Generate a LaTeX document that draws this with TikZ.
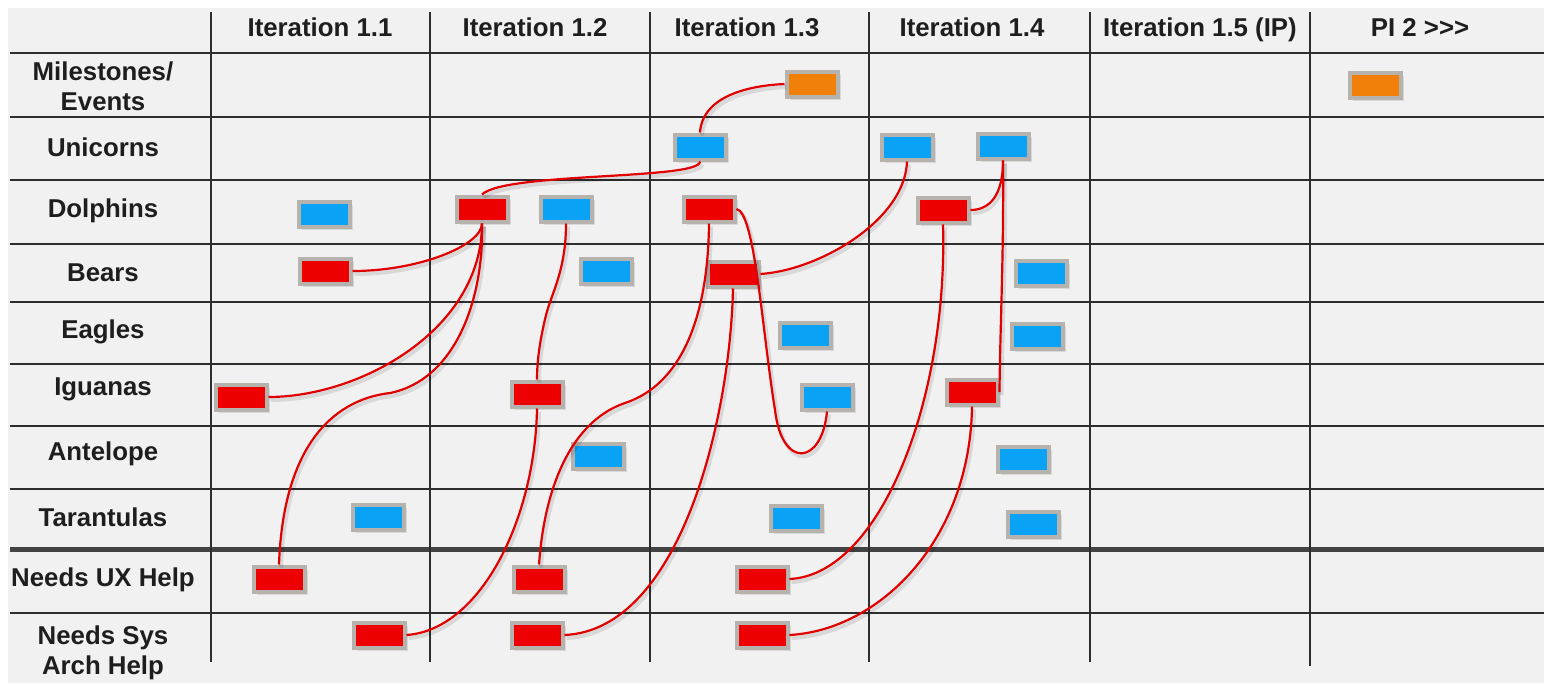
\documentclass[tikz,border=0pt]{standalone}
\usepackage{fontspec}
\setmainfont{Liberation Sans}
\usetikzlibrary{shadows}
\definecolor{bgc}{HTML}{F2F1F1}
\definecolor{gridc}{HTML}{2E2E2E}
\definecolor{cred}{HTML}{EE0000}
\definecolor{cblue}{HTML}{0AA2F5}
\definecolor{corange}{HTML}{F08008}
\definecolor{boxrim}{HTML}{B6B2AE}
\definecolor{linkc}{HTML}{E00000}
\definecolor{txt}{HTML}{1E1E1E}
\begin{document}
\begin{tikzpicture}[x=1pt,y=-1pt,
  card/.style={draw=boxrim, line width=4pt, minimum width=51pt, minimum height=25pt, inner sep=0pt,
    drop shadow={shadow xshift=3pt, shadow yshift=-3pt, opacity=0.22}},
  redcard/.style={card, fill=cred},
  bluecard/.style={card, fill=cblue},
  orangecard/.style={card, fill=corange},
  linkline/.style={draw=linkc, line width=2.2pt,
    preaction={draw=black, opacity=0.10, line width=4pt, transform canvas={xshift=2pt, yshift=-3pt}}},
  lab/.style={font=\fontsize{25.8}{30}\selectfont\bfseries, text=txt, align=center, inner sep=0pt},
  hdr/.style={lab, anchor=base},
  gridline/.style={draw=gridc, line width=2pt},
]
\useasboundingbox (0,0) rectangle (1544,683);
\fill[white] (0,0) rectangle (1544,683);
\fill[bgc] (8,8) rectangle (1544,683);

% grid
\foreach \y in {53,117,180,244,302,364,426,489,613}
  \draw[gridline] (10,\y) -- (1544,\y);
\draw[draw=gridc!90, line width=5pt] (10,549) -- (1544,549);
\foreach \x in {211,430,650,869,1090}
  \draw[gridline] (\x,12) -- (\x,662);
\draw[gridline] (1310,12) -- (1310,666);

% headers
\node[hdr] (h11) at (320,36) {Iteration 1.1};
\node[hdr] (h12) at (535,36) {Iteration 1.2};
\node[hdr] (h13) at (747,36) {Iteration 1.3};
\node[hdr] (h14) at (972,36) {Iteration 1.4};
\node[hdr] (h15) at (1200,36) {Iteration 1.5 (IP)};
\node[hdr] (hpi) at (1420,36) {PI 2 {>}{>}{>}};

% row labels
\node[lab] (rm) at (103,86) {Milestones/\\Events};
\node[lab] (ru) at (103,147) {Unicorns};
\node[lab] (rd) at (103,211) {Dolphins};
\node[lab] (rb) at (103,273) {Bears};
\node[lab] (re) at (103,332) {Eagles};
\node[lab] (ri) at (103,389) {Iguanas};
\node[lab] (ra) at (103,454) {Antelope};
\node[lab] (rt) at (103,517) {Tarantulas};
\node[lab] (rx) at (103,580) {Needs UX Help};
\node[lab] (rs) at (103,653) {Needs Sys\\Arch Help};

% cards
\node[orangecard] (m13) at (812,84) {};
\node[orangecard] (m2) at (1375,85) {};
\node[bluecard] (u13) at (700,147) {};
\node[bluecard] (u14a) at (907,147) {};
\node[bluecard] (u14b) at (1003,146) {};
\node[bluecard] (d11) at (324,214) {};
\node[redcard] (d12r) at (482,209) {};
\node[bluecard] (d12b) at (566,209) {};
\node[redcard] (d13) at (709,209) {};
\node[redcard] (d14) at (943,210) {};
\node[redcard] (b11) at (325,271) {};
\node[bluecard] (b12) at (606,271) {};
\node[redcard] (b13) at (733,274) {};
\node[bluecard] (b14) at (1041,273) {};
\node[bluecard] (e13) at (805,335) {};
\node[bluecard] (e14) at (1037,336) {};
\node[redcard] (i11) at (241,397) {};
\node[redcard] (i12) at (537,394) {};
\node[bluecard] (i13) at (827,397) {};
\node[redcard] (i14) at (972,392) {};
\node[bluecard] (a12) at (598,456) {};
\node[bluecard] (a14) at (1023,459) {};
\node[bluecard] (t11) at (378,517) {};
\node[bluecard] (t13) at (796,518) {};
\node[bluecard] (t14) at (1033,524) {};
\node[redcard] (x11) at (279,579) {};
\node[redcard] (x12) at (539,579) {};
\node[redcard] (x13) at (762,579) {};
\node[redcard] (s11) at (379,635) {};
\node[redcard] (s12) at (537,635) {};
\node[redcard] (s13) at (762,635) {};

% connectors
\draw[linkline] (m13.west) .. controls (740,86) and (702,100) .. (u13.north);
\draw[linkline] (u13.south) .. controls (700,180) and (505,172) .. (d12r.north);
\draw[linkline] (d12r.south) .. controls (482,245) and (420,271) .. (b11.east);
\draw[linkline] (d12r.south) .. controls (482,330) and (360,397) .. (i11.east);
\draw[linkline] (d12r.south) .. controls (484,300) and (455,380) .. (390,393)
  .. controls (330,400) and (283,450) .. (x11.north);
\draw[linkline] (d12b.south) .. controls (566,270) and (552,292) .. (546,315)
  .. controls (540,340) and (537,360) .. (i12.north);
\draw[linkline] (i12.south) .. controls (535,520) and (480,630) .. (s11.east);
\draw[linkline] (d13.south) .. controls (708,320) and (680,385) .. (625,403)
  .. controls (575,420) and (545,480) .. (x12.north);
\draw[linkline] (b13.south) .. controls (730,420) and (680,630) .. (s12.east);
\draw[linkline] (d13.east) .. controls (755,212) and (762,330) .. (775,410)
  .. controls (782,470) and (822,465) .. (i13.south);
\draw[linkline] (b13.east) .. controls (820,270) and (905,220) .. (u14a.south);
\draw[linkline] (u14b.south) .. controls (1003,195) and (990,210) .. (d14.east);
\draw[linkline] (u14b.south) .. controls (1004,250) and (1000,330) .. (i14.east);
\draw[linkline] (d14.south) .. controls (948,400) and (880,575) .. (x13.east);
\draw[linkline] (i14.south) .. controls (970,540) and (880,630) .. (s13.east);
\end{tikzpicture}
\end{document}
